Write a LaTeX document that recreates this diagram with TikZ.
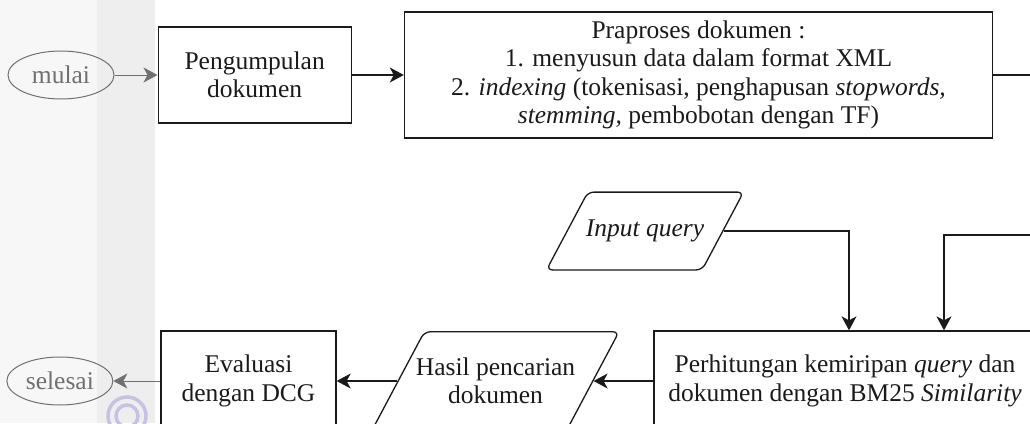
\documentclass[tikz,border=0pt]{standalone}
\usepackage{fontspec}
\setmainfont{Liberation Serif}
\usepackage{tikz}
\usetikzlibrary{shapes.geometric, arrows.meta, positioning}
\usepackage{xcolor}
\definecolor{bandA}{HTML}{F7F7F7}
\definecolor{bandB}{HTML}{EEEEEE}
\definecolor{ink}{HTML}{1A1A1A}
\definecolor{pale}{HTML}{707070}
\definecolor{logoPurple}{HTML}{C8C2E2}

\begin{document}
\begin{tikzpicture}[
    x=1pt, y=-1pt,
    node distance=40pt,
    block/.style={rectangle, draw=ink, line width=1.3pt, text=ink, align=center, inner sep=0pt, font=\fontsize{25.5}{28.5}\selectfont},
    terminal/.style={ellipse, draw=pale, line width=1pt, text=pale, minimum width=106pt, minimum height=48pt, inner sep=0pt, font=\fontsize{25.5}{28.5}\selectfont},
    io/.style={trapezium, trapezium left angle=62, trapezium right angle=118, draw=ink, line width=1.3pt, rounded corners=6pt, text=ink, align=center, font=\fontsize{25.5}{28.5}\selectfont},
    arrow/.style={-{Stealth[length=14pt, width=15pt, inset=4pt]}, line width=1.3pt, draw=ink},
    softarrow/.style={arrow, draw=pale, line width=1pt}
]
    \useasboundingbox (0,0) rectangle (1030,423);
    \clip (0,0) rectangle (1030,423);
    \fill[bandA] (0,0) rectangle (97,423);
    \fill[bandB] (97,0) rectangle (155,423);
    % watermark
    \draw[logoPurple, line width=3.5pt] (127,416) circle (19) (127,416) circle (11);

    \node[terminal] (mulai) at (61,75) {mulai};
    \node[block, minimum width=193pt, minimum height=96pt, right=43pt of mulai] (kumpul) {Pengumpulan\\dokumen};
    \node[block, minimum width=588pt, minimum height=126pt, right=52pt of kumpul] (praproses) {Praproses dokumen :\\1. menyusun data dalam format XML\\2. \textit{indexing} (tokenisasi, penghapusan \textit{stopwords,}\\\textit{stemming,} pembobotan dengan TF)};
    \coordinate (keluar) at (1040,75);

    \node[io, inner xsep=-2pt, inner ysep=27.8pt] (query) at (645,231) {\textit{Input query}};
    \coordinate (masuk) at (1040,235);
    \node[block, minimum width=382pt, minimum height=100pt] (hitung) at (845,381) {Perhitungan kemiripan \textit{query} dan\\dokumen dengan BM25 \textit{Similarity}};
    \node[io, inner xsep=-8.5pt, inner ysep=26pt] (hasil) at (495.5,381) {Hasil pencarian\\dokumen};
    \node[block, minimum width=175pt, minimum height=100pt] (evaluasi) at (248.5,381) {Evaluasi\\dengan DCG};
    \node[terminal, left=47pt of evaluasi] (selesai) {selesai};

    \draw[softarrow] (mulai) -- (kumpul);
    \draw[arrow] (kumpul) -- (praproses);
    \draw[line width=1.3pt, draw=ink] (praproses) -- (keluar);
    \draw[arrow] (query.east) -| ([xshift=4pt]hitung.north);
    \draw[arrow] (masuk) -| ([xshift=99pt]hitung.north);
    \draw[arrow] (hitung.west |- hasil.east) -- (hasil.east);
    \draw[arrow] (hasil.west) -- (evaluasi.east |- hasil.west);
    \draw[softarrow] (evaluasi) -- (selesai);
\end{tikzpicture}
\end{document}
